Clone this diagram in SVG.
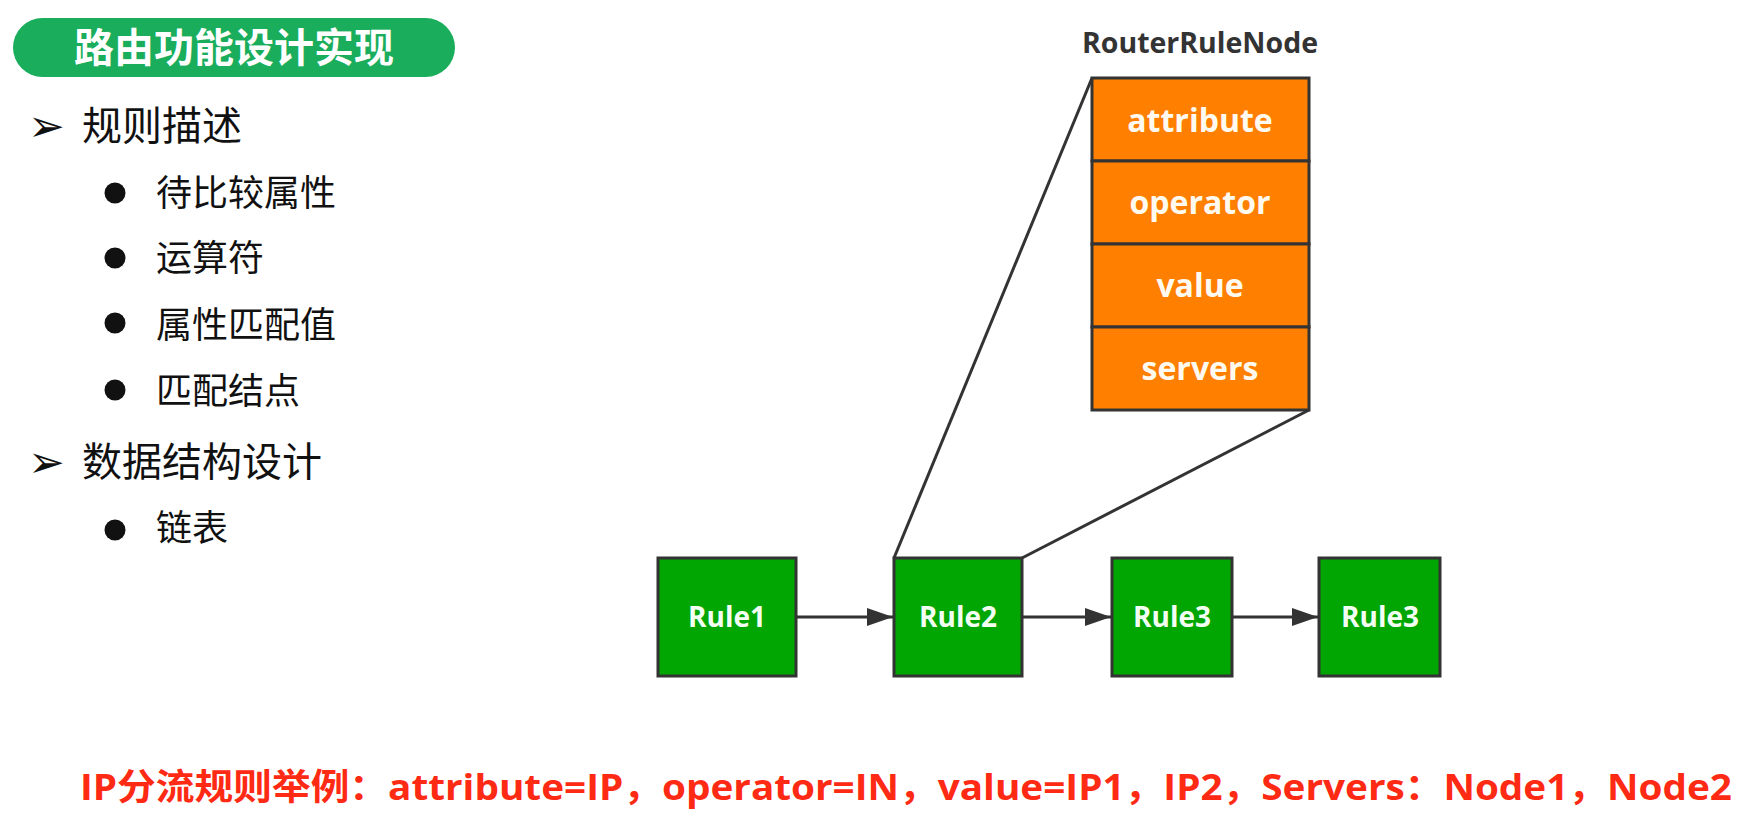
<svg xmlns="http://www.w3.org/2000/svg" width="1746" height="818" viewBox="0 0 1746 818">
<defs>
<style>
.cjk{font-family:"Noto Sans CJK SC","Noto Sans",sans-serif;fill:#111;}
.l1{font-size:40px;}
.l2{font-size:36px;}
.arrowb{font-family:"DejaVu Sans",sans-serif;font-size:44px;fill:#111;}
.rule{fill:#02a602;stroke:#333;stroke-width:3;}
.rtxt{font-family:"Open Sans","Noto Sans CJK SC",sans-serif;font-weight:700;font-size:28px;fill:#f4fff4;text-anchor:middle;}
.cell{fill:#ff8000;stroke:#333;stroke-width:3;}
.ctxt{font-family:"Open Sans","Noto Sans CJK SC",sans-serif;font-weight:700;font-size:32px;fill:#fffaf0;text-anchor:middle;}
.conn{stroke:#333;stroke-width:3;fill:none;}
</style>
<marker id="arr" markerWidth="26" markerHeight="20" refX="26" refY="10" orient="auto" markerUnits="userSpaceOnUse" viewBox="0 0 26 20">
<path d="M0,1 L26,10 L0,19 Z" fill="#333"/>
</marker>
</defs>
<rect width="1746" height="818" fill="#fff"/>

<g id="title">
<rect x="13" y="18" width="442" height="59" rx="29.5" fill="#19ad5c"/>
<text x="234" y="62" text-anchor="middle" font-family="Noto Sans CJK SC, sans-serif" font-weight="700" font-size="40" fill="#fff">路由功能设计实现</text>
</g>

<g id="bullets">
<text class="arrowb" x="28" y="141">➢</text>
<text class="cjk l1" x="82" y="140">规则描述</text>
<circle cx="115" cy="193" r="10.5" fill="#111"/>
<text class="cjk l2" x="156" y="206">待比较属性</text>
<circle cx="115" cy="258" r="10.5" fill="#111"/>
<text class="cjk l2" x="156" y="271">运算符</text>
<circle cx="115" cy="323" r="10.5" fill="#111"/>
<text class="cjk l2" x="156" y="338">属性匹配值</text>
<circle cx="115" cy="390" r="10.5" fill="#111"/>
<text class="cjk l2" x="156" y="404">匹配结点</text>
<text class="arrowb" x="28" y="477">➢</text>
<text class="cjk l1" x="82" y="476">数据结构设计</text>
<circle cx="115" cy="530" r="10.5" fill="#111"/>
<text class="cjk l2" x="156" y="541">链表</text>
</g>

<g id="connectors">
<line class="conn" x1="1092" y1="78" x2="894" y2="558"/>
<line class="conn" x1="1309" y1="410" x2="1022" y2="558"/>
<line class="conn" x1="797" y1="617" x2="893" y2="617" marker-end="url(#arr)"/>
<line class="conn" x1="1023" y1="617" x2="1111" y2="617" marker-end="url(#arr)"/>
<line class="conn" x1="1233" y1="617" x2="1318" y2="617" marker-end="url(#arr)"/>
</g>

<g id="RouterRuleNode">
<text x="1200" y="53" text-anchor="middle" font-family="Open Sans, sans-serif" font-weight="700" font-size="28.5" fill="#333">RouterRuleNode</text>
<rect class="cell" x="1092" y="78" width="217" height="83"/>
<rect class="cell" x="1092" y="161" width="217" height="83"/>
<rect class="cell" x="1092" y="244" width="217" height="83"/>
<rect class="cell" x="1092" y="327" width="217" height="83"/>
<text class="ctxt" x="1200" y="132">attribute</text>
<text class="ctxt" x="1200" y="214">operator</text>
<text class="ctxt" x="1200" y="297">value</text>
<text class="ctxt" x="1200" y="380">servers</text>
</g>

<g id="rule1">
<rect class="rule" x="658" y="558" width="138" height="118"/>
<text class="rtxt" x="727" y="627">Rule1</text>
</g>
<g id="rule2">
<rect class="rule" x="894" y="558" width="128" height="118"/>
<text class="rtxt" x="958" y="627">Rule2</text>
</g>
<g id="rule3">
<rect class="rule" x="1112" y="558" width="120" height="118"/>
<text class="rtxt" x="1172" y="627">Rule3</text>
</g>
<g id="rule3b">
<rect class="rule" x="1319" y="558" width="121" height="118"/>
<text class="rtxt" x="1380" y="627">Rule3</text>
</g>

<g id="example">
<text x="80" y="800" font-family="Open Sans, Noto Sans CJK SC, sans-serif" font-weight="700" font-size="36" fill="#ff2a14" textLength="1652" lengthAdjust="spacingAndGlyphs">IP分流规则举例：attribute=IP，operator=IN，value=IP1，IP2，Servers：Node1，Node2</text>
</g>
</svg>
